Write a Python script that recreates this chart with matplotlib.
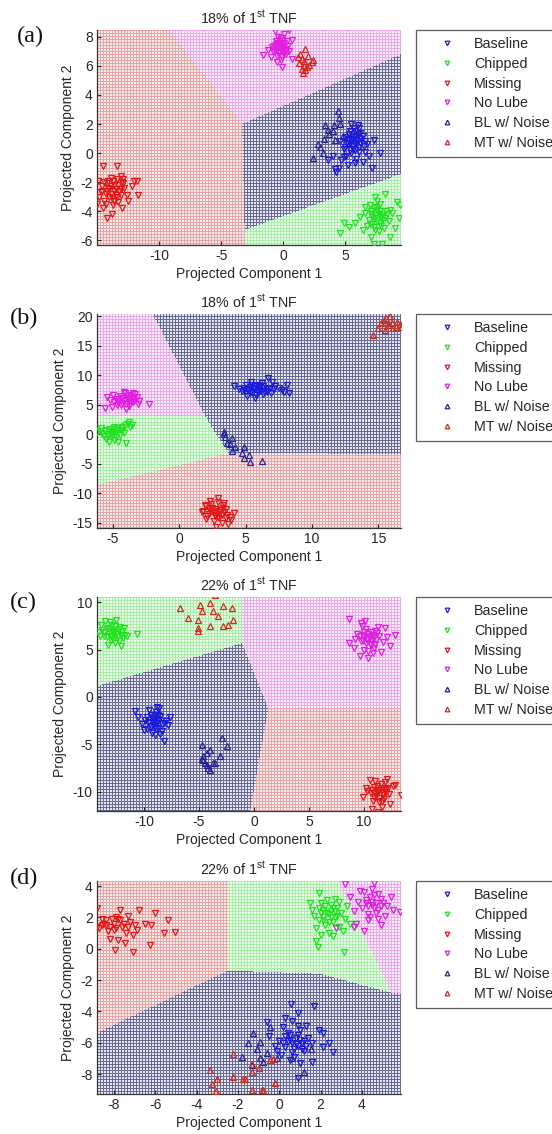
import numpy as np
import matplotlib
matplotlib.use("Agg")
import matplotlib.pyplot as plt
from matplotlib.path import Path

plt.rcParams['font.family'] = ['Liberation Sans', 'DejaVu Sans']
plt.rcParams['axes.unicode_minus'] = False
plt.rcParams['mathtext.fontset'] = 'custom'
plt.rcParams['mathtext.rm'] = 'Liberation Sans'
plt.rcParams['mathtext.it'] = 'Liberation Sans:italic'

# ---------------------------------------------------------------- labels
series_names = ["Baseline", "Chipped", "Missing", "No Lube", "BL w/ Noise", "MT w/ Noise"]
panel_letters = ["(a)", "(b)", "(c)", "(d)"]
panel_titles = ["18% of 1$^{\\mathrm{st}}$ TNF", "18% of 1$^{\\mathrm{st}}$ TNF",
                "22% of 1$^{\\mathrm{st}}$ TNF", "22% of 1$^{\\mathrm{st}}$ TNF"]
x_label = "Projected Component 1"
y_label = "Projected Component 2"

# axis ranges and ticks per panel
a_xlim, a_ylim = (-15.0, 9.5), (-6.34, 8.48)
b_xlim, b_ylim = (-6.2, 16.7), (-15.85, 20.34)
c_xlim, c_ylim = (-14.27, 13.36), (-12.05, 10.57)
d_xlim, d_ylim = (-8.82, 5.89), (-9.27, 4.32)
a_xticks, a_yticks = [-10, -5, 0, 5], [-6, -4, -2, 0, 2, 4, 6, 8]
b_xticks, b_yticks = [-5, 0, 5, 10, 15], [-15, -10, -5, 0, 5, 10, 15, 20]
c_xticks, c_yticks = [-10, -5, 0, 5, 10], [-10, -5, 0, 5, 10]
d_xticks, d_yticks = [-8, -6, -4, -2, 0, 2, 4], [-8, -6, -4, -2, 0, 2, 4]

# ---------------------------------------------------------------- panel (a) projected points
a_baseline = [(5.6,0.9),(5.9,1.2),(5.2,0.6),(6.1,0.4),(5.4,1.5),(5.8,0.2),(6.3,1.0),(5.0,1.1),
              (5.5,0.0),(6.0,0.8),(5.7,1.7),(6.5,0.5),(4.9,0.3),(5.3,1.3),(6.2,1.4),(5.1,-0.2),
              (5.9,-0.4),(6.6,0.1),(5.4,0.7),(5.6,0.5),(6.0,1.9),(4.7,-0.5),(5.2,-0.8),(6.8,0.6),
              (4.5,-1.0),(4.3,-1.3),(4.2,-1.1),(4.9,-0.3),(5.8,-0.7),(6.4,-0.6),(7.3,0.9),(7.8,0.0),
              (7.2,-1.0),(6.9,-0.2),(5.5,2.0),(6.1,1.7),(5.0,0.4),(4.6,0.8),(3.6,-0.5),(4.0,-0.2),
              (5.5,1.0),(5.8,0.6),(6.0,1.3),(5.3,0.9),(6.2,0.7),(5.7,1.1),(5.1,0.7),(6.4,1.2),
              (5.6,0.3),(5.9,0.9),(6.6,0.8),(5.4,0.2),(6.1,0.1),(5.8,1.5),(5.2,1.0)]
a_chipped = [(7.4,-4.5),(7.1,-4.2),(7.8,-4.8),(7.6,-3.9),(8.0,-4.3),(6.9,-4.6),(7.3,-5.1),(8.3,-4.0),
             (7.0,-3.6),(7.7,-5.4),(8.5,-4.7),(6.6,-4.1),(7.2,-4.9),(8.1,-5.2),(7.5,-3.7),(6.8,-5.0),
             (7.9,-4.4),(4.6,-5.5),(4.9,-4.8),(5.3,-5.1),(5.8,-4.8),(6.2,-4.4),(6.6,-3.7),(7.4,-3.0),
             (8.2,-2.8),(9.2,-3.4),(9.4,-3.6),(9.3,-4.5),(9.0,-5.2),(8.6,-5.8),(8.0,-6.3),(7.3,-6.3),
             (7.1,-5.8),(8.8,-4.1),(6.4,-5.3),(7.6,-3.3),
             (7.5,-4.3),(7.8,-4.0),(7.2,-4.4),(8.2,-4.5),(7.6,-4.7),(7.9,-5.0),(7.3,-3.8),(8.4,-4.2),
             (7.0,-4.9),(7.7,-4.2),(8.0,-4.6),(7.4,-5.3),(8.6,-3.9),(7.1,-4.0),(7.8,-3.5)]
a_missing = [(-14.0,-2.5),(-13.6,-2.2),(-14.3,-2.8),(-13.2,-2.6),(-14.6,-2.3),(-13.8,-3.1),(-13.0,-2.0),
             (-14.1,-1.9),(-13.5,-2.9),(-12.8,-2.4),(-14.4,-3.3),(-13.3,-3.4),(-13.9,-1.7),(-12.6,-2.9),
             (-14.7,-2.7),(-13.7,-3.6),(-13.1,-2.9),(-14.2,-2.1),(-12.9,-1.8),(-13.4,-3.0),(-14.9,-1.9),
             (-14.5,-0.9),(-13.4,-0.9),(-11.8,-1.9),(-11.7,-2.9),(-15.0,-3.5),(-14.5,-3.8),(-14.2,-4.5),
             (-13.8,-4.2),(-13.0,-3.8),(-12.5,-3.3),(-12.2,-2.3),(-12.0,-1.9),(-13.1,-1.6),(-13.6,-2.6),
             (-14.8,-3.0),
             (-13.9,-2.3),(-14.2,-2.6),(-13.5,-2.5),(-13.7,-1.9),(-14.4,-2.0),(-13.3,-2.2),(-13.8,-2.8),
             (-14.0,-3.0),(-13.1,-2.5),(-14.6,-2.6),(-13.6,-3.3),(-12.9,-2.1),(-14.3,-3.5),(-13.4,-1.8),
             (-14.1,-2.4)]
a_nolube = [(-0.3,7.3),(0.0,7.5),(-0.6,7.1),(-0.1,7.8),(0.2,7.2),(-0.4,7.6),(-0.8,7.0),(0.1,6.9),
            (-0.2,7.9),(0.4,7.4),(-0.5,6.7),(-0.7,7.4),(0.3,7.7),(-0.1,6.6),(-0.4,8.0),(0.0,7.1),
            (-0.9,7.3),(0.2,6.8),(-0.3,7.0),(-0.6,7.7),(-1.6,6.75),(-1.2,7.1),(-0.65,8.4),(0.45,8.5),
            (0.7,7.8),(-0.1,5.95),(-0.5,6.3),(0.7,6.5),(0.5,7.0),(-1.0,6.6),(-0.2,6.4),(0.1,8.2),
            (-0.3,7.5),(-0.5,7.3),(0.0,7.3),(-0.2,7.1),(-0.6,7.5),(0.1,7.6),(-0.4,6.9),(-0.1,7.6),
            (-0.7,7.2),(0.2,7.0),(-0.3,7.8),(0.0,6.9)]
a_bl_noise = [(4.4,2.9),(3.4,1.9),(4.1,1.9),(4.6,2.0),(3.3,1.0),(2.8,0.6),(3.2,0.0),(2.4,-0.35),
              (4.0,1.5),(4.2,0.9),(3.7,1.3),(4.5,2.4),(3.0,0.4),(4.8,1.2),(3.6,1.6)]
a_mt_noise = [(1.8,7.2),(2.4,6.4),(1.5,6.5),(1.3,6.2),(1.9,5.9),(1.6,5.5),(1.75,5.7),(1.4,6.8),
              (2.1,6.1),(1.2,6.6),(1.7,6.0),(2.0,6.7),(1.5,5.8),(2.3,6.3),(1.65,6.35)]

# ---------------------------------------------------------------- panel (b) projected points
b_baseline = [(5.7,7.8),(5.2,7.5),(6.1,8.0),(5.5,8.3),(6.4,7.4),(4.9,7.9),(5.9,7.1),(6.8,7.8),
              (5.3,6.9),(6.2,8.6),(5.0,8.4),(6.6,7.2),(5.6,7.6),(7.2,8.1),(5.8,6.7),(4.7,7.3),
              (6.0,7.7),(6.9,7.0),(5.4,8.8),(6.3,6.8),(7.5,7.9),(4.1,8.2),(4.5,7.6),(8.1,8.3),
              (7.7,7.5),(8.3,7.0),(6.7,9.5),(5.7,6.1),(7.0,8.9),(5.1,6.5),(6.5,7.4),(7.9,7.2),
              (5.6,7.9),(6.0,7.5),(5.3,8.0),(6.3,8.2),(5.8,8.1),(5.1,7.7),(6.6,7.6),(5.5,7.2),
              (6.1,7.3),(5.9,8.4),(7.1,7.6),(6.4,7.9),(4.9,7.5)]
b_chipped = [(-5.0,0.4),(-4.6,0.8),(-5.4,0.1),(-4.3,1.2),(-5.8,0.0),(-4.8,0.2),(-5.2,0.9),(-4.1,1.5),
             (-5.6,0.5),(-4.5,-0.2),(-3.9,1.8),(-6.0,0.6),(-5.1,-0.5),(-4.7,1.0),(-5.5,-0.8),(-4.2,0.3),
             (-6.2,0.4),(-3.8,2.0),(-3.6,1.6),(-5.3,-1.25),(-4.6,-1.25),(-4.0,-1.5),(-4.9,-0.9),
             (-5.7,-0.3),(-4.4,0.7),(-5.9,1.0),(-3.7,1.2),(-5.0,0.5),
             (-5.0,0.9),(-4.7,0.5),(-5.3,0.5),(-4.4,1.0),(-5.1,0.1),(-4.9,1.3),(-5.6,0.8),(-4.3,0.6),
             (-5.4,-0.3),(-4.8,-0.4)]
b_missing = [(2.8,-13.0),(2.5,-12.5),(3.1,-12.8),(2.2,-13.4),(3.4,-13.1),(2.7,-13.9),(2.0,-12.2),
             (3.0,-14.2),(3.6,-13.6),(2.4,-11.8),(2.9,-11.4),(3.3,-12.0),(1.8,-12.9),(2.6,-14.6),
             (3.8,-14.0),(2.1,-13.8),(3.2,-15.0),(2.8,-15.6),(3.5,-12.6),(2.3,-11.2),(1.7,-13.2),
             (4.1,-13.3),(3.9,-14.5),(2.9,-10.8),(2.0,-14.3),(3.4,-11.6),(3.0,-13.5),(2.5,-12.7),
             (1.9,-11.9),(3.7,-15.1),
             (2.8,-12.6),(3.0,-13.2),(2.6,-13.3),(3.2,-13.6),(2.4,-12.9),(2.9,-14.0),(3.3,-12.4),
             (2.2,-12.6),(2.7,-13.7),(3.5,-14.2)]
b_nolube = [(-3.9,5.8),(-4.3,6.2),(-3.5,5.5),(-4.6,5.9),(-3.2,6.3),(-4.0,5.2),(-4.8,6.0),(-3.7,6.6),
            (-4.4,5.0),(-3.4,5.7),(-4.1,6.9),(-4.9,5.4),(-3.6,6.0),(-3.0,5.6),(-4.5,6.5),(-3.8,4.7),
            (-5.2,5.8),(-4.2,7.2),(-3.3,6.8),(-4.7,4.9),(-5.44,6.36),(-5.56,4.4),(-5.1,4.6),(-2.3,5.1),
            (-4.0,4.2),(-3.5,7.0),(-3.9,6.4),(-4.6,5.3),(-5.0,6.6),(-3.1,5.1),
            (-3.9,6.1),(-4.2,5.6),(-3.6,5.9),(-4.4,6.1),(-3.8,5.4),(-4.0,6.5),(-3.4,6.2),(-4.6,5.6),
            (-3.7,5.2),(-4.3,5.3)]
b_bl_noise = [(3.33,0.44),(3.46,-0.4),(3.58,-1.5),(3.96,-0.7),(4.2,-2.1),(4.84,-2.1),(4.7,-3.2),
              (4.84,-4.0),(5.26,-3.5),(5.3,-4.7),(6.2,-4.6),(3.96,-2.9),(3.4,0.0),(3.83,-1.6)]
b_mt_noise = [(15.7,18.5),(16.0,18.9),(15.4,19.3),(16.3,18.2),(15.9,20.0),(16.6,18.6),(15.2,18.8),
              (16.1,17.9),(15.6,19.6),(16.4,19.0),(14.6,16.8),(15.0,17.9),(16.7,18.1),(15.8,18.4),
              (15.5,17.6)]

# ---------------------------------------------------------------- panel (c) projected points
c_baseline = [(-9.2,-2.6),(-8.8,-2.3),(-9.6,-2.8),(-8.5,-2.0),(-9.9,-2.4),(-9.0,-3.1),(-8.2,-2.7),
              (-9.4,-1.9),(-8.7,-3.3),(-10.2,-2.9),(-9.1,-2.2),(-8.4,-3.6),(-9.7,-3.4),(-8.0,-2.5),
              (-8.9,-1.6),(-10.5,-2.1),(-9.3,-3.8),(-8.6,-1.2),(-7.8,-3.0),(-9.5,-1.4),(-10.8,-1.5),
              (-8.2,-4.7),(-9.0,-4.0),(-8.8,-1.1),(-10.0,-3.5),(-9.2,-2.5),(-7.6,-2.1),(-8.5,-3.9),
              (-9.1,-2.5),(-9.3,-2.2),(-8.8,-2.8),(-9.5,-2.6),(-8.6,-2.4),(-9.0,-2.0),(-9.2,-3.0),
              (-8.9,-3.4),(-9.7,-2.1),(-8.4,-2.9),(-9.4,-3.2),(-8.7,-1.9)]
c_chipped = [(-12.8,6.8),(-13.2,7.2),(-12.4,6.5),(-13.6,6.9),(-12.0,7.0),(-12.9,7.6),(-13.4,6.3),
             (-12.2,7.4),(-13.0,6.0),(-11.7,6.6),(-13.8,7.1),(-12.6,5.7),(-13.1,7.9),(-11.9,6.2),
             (-12.5,8.1),(-14.0,6.5),(-13.3,5.5),(-12.7,6.9),(-11.5,6.4),(-12.3,5.9),(-13.9,7.6),
             (-10.6,6.7),(-12.1,5.4),(-13.5,8.0),(-12.8,6.1),(-11.8,7.3),(-14.2,6.9),(-12.9,7.0),
             (-12.8,7.0),(-12.5,6.7),(-13.0,6.5),(-12.3,7.2),(-13.2,6.7),(-12.6,7.5),(-13.4,7.3),
             (-12.1,6.6),(-12.9,6.3),(-13.6,6.4)]
c_missing = [(11.3,-9.8),(11.7,-10.1),(10.9,-9.5),(12.0,-9.7),(11.1,-10.5),(11.5,-9.2),(10.6,-10.2),
             (12.3,-10.3),(11.0,-8.9),(11.8,-10.8),(10.3,-9.9),(12.6,-9.4),(11.4,-11.1),(10.8,-11.0),
             (12.1,-8.7),(11.2,-10.0),(9.9,-10.6),(13.4,-10.4),(11.6,-11.6),(10.5,-8.8),(12.4,-11.3),
             (11.9,-9.0),(10.7,-11.8),(11.3,-12.2),(12.8,-9.3),(10.2,-9.6),
             (11.3,-10.0),(11.5,-9.6),(11.0,-10.2),(11.7,-10.4),(11.2,-9.4),(10.9,-10.6),(11.8,-9.8),
             (11.4,-10.7),(12.0,-10.0),(10.7,-9.8),(11.6,-11.0),(12.2,-9.6)]
c_nolube = [(10.3,6.2),(10.7,6.6),(9.9,5.9),(11.1,6.0),(10.0,6.9),(10.6,5.5),(9.6,6.4),(11.4,6.5),
            (10.2,7.2),(10.9,5.2),(9.4,6.7),(11.7,5.8),(10.4,4.9),(9.8,7.5),(11.0,7.0),(10.5,5.6),
            (12.1,6.3),(9.2,6.1),(10.8,4.6),(11.3,7.4),(8.6,5.7),(12.8,6.6),(9.6,4.3),(8.6,8.2),
            (9.1,5.2),(10.1,8.0),(11.9,7.3),(10.4,4.1),(12.4,5.4),(9.7,7.8),(11.5,4.8),(10.0,5.0),
            (10.3,6.0),(10.5,6.4),(10.0,6.3),(10.8,6.2),(10.2,5.7),(10.6,6.9),(9.9,6.6),(11.0,5.6),
            (10.4,6.7),(11.2,6.8),(10.7,5.9),(9.7,5.9)]
c_bl_noise = [(-4.76,-5.04),(-4.0,-5.57),(-2.94,-4.33),(-2.48,-5.15),(-3.09,-6.27),(-3.7,-6.98),
              (-4.6,-6.27),(-4.45,-6.98),(-4.15,-7.5),(-4.76,-6.6),(-4.3,-5.9),(-3.55,-7.0),
              (-4.6,-6.66),(-4.0,-7.7),(-4.3,-7.2)]
c_mt_noise = [(-6.73,9.4),(-4.76,9.06),(-4.0,9.94),(-3.55,10.8),(-2.79,9.58),(-2.03,9.4),(-1.88,8.17),
              (-2.33,7.64),(-2.79,7.47),(-3.24,8.53),(-3.7,9.06),(-4.0,7.47),(-5.06,8.17),(-5.06,7.3),
              (-5.06,6.94),(-5.97,8.35),(-4.9,9.7)]

# ---------------------------------------------------------------- panel (d) projected points
d_baseline = [(0.8,-6.1),(0.5,-5.8),(1.1,-6.0),(0.3,-6.3),(0.9,-5.5),(1.3,-6.2),(0.0,-5.9),(0.6,-6.6),
              (1.0,-5.2),(0.4,-5.4),(1.4,-5.7),(-0.2,-6.2),(0.7,-6.9),(1.2,-6.5),(0.2,-5.0),(0.9,-4.9),
              (-0.5,-5.6),(0.5,-7.1),(1.6,-6.0),(0.1,-6.8),(0.57,-3.53),(1.7,-3.66),(2.1,-5.4),
              (2.58,-6.57),(2.1,-6.3),(0.89,-8.27),(1.58,-7.2),(0.89,-4.1),(1.3,-4.9),(-0.6,-4.7),
              (2.4,-6.0),(1.9,-5.2),(0.3,-4.4),(1.0,-7.3),(-0.1,-6.5),(0.6,-4.6),
              (0.6,-6.0),(0.9,-6.2),(0.4,-5.9),(1.0,-5.8),(0.7,-6.4),(0.2,-6.0),(1.2,-5.9),(0.5,-5.5),
              (0.8,-5.7),(0.3,-5.6),(1.1,-6.4)]
d_chipped = [(2.4,2.2),(2.1,2.5),(2.7,2.0),(1.9,1.8),(2.5,2.8),(3.0,2.3),(1.7,2.1),(2.2,1.5),(2.8,2.6),
             (2.0,2.9),(2.6,1.7),(3.2,1.9),(1.6,2.5),(2.3,3.1),(2.9,1.4),(1.8,1.3),(2.5,2.4),(3.4,1.6),
             (2.1,2.0),(2.7,3.2),(1.94,3.57),(1.86,0.13),(3.14,-0.19),(1.8,0.5),(3.1,1.1),(3.6,1.4),
             (2.4,1.0),(2.0,0.9),(3.3,2.7),(2.6,0.8),(1.5,2.9),(2.9,3.0),
             (2.3,2.3),(2.5,2.0),(2.0,2.3),(2.7,2.4),(2.2,2.7),(2.4,1.7),(1.9,2.6),(2.8,2.1),(2.1,1.8),
             (2.6,2.6)]
d_missing = [(-8.83,2.58),(-7.95,-0.08),(-7.06,-0.2),(-6.26,0.24),(-5.37,1.83),(-5.05,1.09),(-5.6,0.98),
             (-6.0,2.26),(-6.8,2.47),(-7.7,2.47),(-7.8,0.55),(-8.2,0.6),(-6.5,1.6),(-7.46,0.34),
             (-8.5,1.6),(-8.1,1.9),(-7.6,1.4),(-7.2,1.7),(-8.7,1.3),(-8.3,1.1),(-7.9,2.0),(-7.4,1.0),
             (-7.0,1.5),(-8.6,1.9),(-8.0,1.2),(-7.3,2.1),(-6.9,1.2),(-7.7,1.8),(-8.4,1.5),(-6.2,1.5),
             (-7.1,0.9),(-8.8,1.4),
             (-8.0,1.6),(-7.8,1.9),(-8.4,1.8),(-7.5,1.6),(-8.2,1.4),(-7.9,1.3),(-8.6,1.5),(-7.3,1.4)]
d_nolube = [(4.5,2.8),(4.2,3.1),(4.8,2.5),(4.0,2.6),(4.6,3.4),(5.0,2.9),(4.3,2.2),(4.9,3.2),(3.8,3.0),
            (4.4,2.0),(5.2,2.7),(4.1,3.6),(4.7,2.3),(3.6,2.4),(5.4,3.3),(4.5,3.8),(3.9,3.7),(5.1,2.1),
            (4.3,1.8),(4.8,1.9),(3.4,3.3),(5.84,2.36),(2.74,1.34),(3.63,1.4),(4.1,1.1),(3.2,4.1),
            (4.6,4.2),(5.5,2.5),(3.7,1.6),(4.9,1.5),
            (4.5,3.0),(4.3,2.7),(4.7,2.9),(4.4,3.3),(4.6,2.6),(4.9,2.7),(4.2,2.9),(4.8,3.5)]
d_bl_noise = [(-1.26,-5.4),(-1.82,-6.9),(-0.93,-5.93),(-0.61,-6.68),(-1.1,-6.4),(-0.45,-4.98),
              (-1.34,-7.4),(-0.77,-7.2),(-0.13,-7.0),(0.6,-7.0),(1.2,-7.85),(1.53,-6.4),(-0.93,-7.0),
              (-1.5,-6.0)]
d_mt_noise = [(-3.35,-7.72),(-3.27,-8.65),(-3.03,-8.3),(-3.08,-9.1),(-2.22,-6.74),(-2.22,-8.19),
              (-1.74,-8.3),(-1.34,-7.34),(-1.34,-7.87),(-1.34,-9.04),(-0.85,-9.04),(-0.77,-9.0),
              (-0.21,-8.6),(-0.45,-7.12),(-0.29,-7.05),(-1.66,-8.3),(-1.0,-7.6)]

# ---------------------------------------------------------------- decision regions (data coords)
a_region_baseline = [(-3.3, 2.0), (10, 7.0), (10, -1.3), (-3.1, -5.3)]
a_region_chipped = [(-3.1, -5.3), (10, -1.3), (10, -7), (-3.1, -7)]
a_region_missing = [(-16, 9), (-9.6, 9), (-3.3, 2.0), (-3.1, -5.3), (-3.1, -7), (-16, -7)]
a_region_nolube = [(-9.6, 9), (10, 9), (10, 7.0), (-3.3, 2.0)]

b_region_baseline = [(-2.2, 21), (18, 21), (18, -3.3), (3.7, -3.2), (1.95, 2.9)]
b_region_chipped = [(-7, 3.0), (1.95, 2.9), (3.7, -3.2), (-7, -9.0)]
b_region_missing = [(-7, -9.0), (3.7, -3.2), (18, -3.3), (18, -17), (-7, -17)]
b_region_nolube = [(-7, 21), (-2.2, 21), (1.95, 2.9), (-7, 3.0)]

c_region_baseline = [(-15, 0.9), (-1.1, 5.7), (1.3, -1.2), (-0.5, -13), (-15, -13)]
c_region_chipped = [(-15, 11), (-1.1, 11), (-1.1, 5.7), (-15, 0.9)]
c_region_missing = [(1.3, -1.2), (14, -1.0), (14, -13), (-0.5, -13)]
c_region_nolube = [(-1.1, 11), (14, 11), (14, -1.0), (1.3, -1.2), (-1.1, 5.7)]

d_region_baseline = [(-9.5, -5.8), (-2.5, -1.4), (2.0, -1.6), (5.4, -2.8), (7, -3.0), (7, -10), (-9.5, -10)]
d_region_chipped = [(-2.5, 5), (2.59, 5), (5.4, -2.8), (2.0, -1.6), (-2.5, -1.4)]
d_region_missing = [(-9.5, 5), (-2.5, 5), (-2.5, -1.4), (-9.5, -5.8)]
d_region_nolube = [(2.59, 5), (7, 5), (7, -3.0), (5.4, -2.8)]

# ---------------------------------------------------------------- styling
marker_colors = ["#1a1adc", "#22e022", "#e01818", "#e020e0", "#242496", "#d02a1e"]
marker_shapes = ["v", "v", "v", "v", "^", "^"]
# mesh colour (lines) and gap colour for each class region: baseline, chipped, missing, no lube
mesh_line = np.array([[105, 105, 150], [165, 240, 165], [232, 165, 165], [232, 170, 232]], float) / 255
mesh_gap = np.array([[232, 232, 242], [238, 253, 238], [250, 236, 236], [250, 238, 250]], float) / 255
text_color = "#262626"

FIG_W, FIG_H = 552, 1134
ax_left, ax_right = 97, 401
ax_tops = [30, 314, 597, 881]
ax_bottoms = [245, 528, 811, 1094]
letter_pos = [(17, 36), (10, 318), (10, 602), (10, 878)]

panels = [
    dict(xlim=a_xlim, ylim=a_ylim, xt=a_xticks, yt=a_yticks,
         series=[a_baseline, a_chipped, a_missing, a_nolube, a_bl_noise, a_mt_noise],
         regions=[a_region_baseline, a_region_chipped, a_region_missing, a_region_nolube]),
    dict(xlim=b_xlim, ylim=b_ylim, xt=b_xticks, yt=b_yticks,
         series=[b_baseline, b_chipped, b_missing, b_nolube, b_bl_noise, b_mt_noise],
         regions=[b_region_baseline, b_region_chipped, b_region_missing, b_region_nolube]),
    dict(xlim=c_xlim, ylim=c_ylim, xt=c_xticks, yt=c_yticks,
         series=[c_baseline, c_chipped, c_missing, c_nolube, c_bl_noise, c_mt_noise],
         regions=[c_region_baseline, c_region_chipped, c_region_missing, c_region_nolube]),
    dict(xlim=d_xlim, ylim=d_ylim, xt=d_xticks, yt=d_yticks,
         series=[d_baseline, d_chipped, d_missing, d_nolube, d_bl_noise, d_mt_noise],
         regions=[d_region_baseline, d_region_chipped, d_region_missing, d_region_nolube]),
]


def region_mesh(npx_w, npx_h, xlim, ylim, regions):
    """Classify every pixel of the plot area and paint it as a fine coloured mesh."""
    cols = np.arange(npx_w)
    rows = np.arange(npx_h)
    xs = xlim[0] + (cols + 0.5) / npx_w * (xlim[1] - xlim[0])
    ys = ylim[1] - (rows + 0.5) / npx_h * (ylim[1] - ylim[0])
    gx, gy = np.meshgrid(xs, ys)
    pts = np.column_stack([gx.ravel(), gy.ravel()])
    label = np.zeros(pts.shape[0], dtype=int)
    for k, poly in enumerate(regions):
        label[Path(poly).contains_points(pts)] = k
    label = label.reshape(npx_h, npx_w)
    mesh = (rows[:, None] % 3 == 0) | (cols[None, :] % 3 == 0)
    return np.where(mesh[..., None], mesh_line[label], mesh_gap[label])


fig = plt.figure(figsize=(FIG_W / 100, FIG_H / 100), dpi=100)

for i, p in enumerate(panels):
    top, bot = ax_tops[i], ax_bottoms[i]
    ax = fig.add_axes([ax_left / FIG_W, 1 - bot / FIG_H,
                       (ax_right - ax_left) / FIG_W, (bot - top) / FIG_H])
    img = region_mesh(ax_right - ax_left, bot - top, p["xlim"], p["ylim"], p["regions"])
    ax.imshow(img, extent=(p["xlim"][0], p["xlim"][1], p["ylim"][0], p["ylim"][1]),
              origin="upper", aspect="auto", interpolation="nearest", zorder=0)

    handles = []
    for pts, name, col, shp in zip(p["series"], series_names, marker_colors, marker_shapes):
        xy = np.array(pts)
        h, = ax.plot(xy[:, 0], xy[:, 1], linestyle="none", marker=shp, ms=4.6,
                     mfc="none", mec=col, mew=0.9, label=name, zorder=3)
        handles.append(h)

    ax.set_xlim(*p["xlim"])
    ax.set_ylim(*p["ylim"])
    ax.set_xticks(p["xt"])
    ax.set_yticks(p["yt"])
    ax.tick_params(direction="in", length=3, width=0.8, colors=text_color,
                   labelsize=10, pad=3, top=False, right=False)
    for side in ("top", "right"):
        ax.spines[side].set_visible(False)
    for side in ("left", "bottom"):
        ax.spines[side].set_color("#333333")
        ax.spines[side].set_linewidth(0.9)

    ax.set_title(panel_titles[i], fontsize=10.3, color=text_color, pad=5)
    ax.set_xlabel(x_label, fontsize=10, color=text_color, labelpad=3)
    ax.set_ylabel(y_label, fontsize=10, color=text_color, labelpad=4)

    leg = ax.legend(handles=handles, loc="upper left",
                    bbox_to_anchor=(416 / FIG_W, 1 - top / FIG_H), bbox_transform=fig.transFigure,
                    borderaxespad=0, frameon=True, fancybox=False, edgecolor="#333333",
                    fontsize=10.3, borderpad=0.5, handlelength=3.3, handletextpad=0.25,
                    labelspacing=0.4, markerscale=0.72, numpoints=1)
    leg.get_frame().set_linewidth(0.9)
    for t in leg.get_texts():
        t.set_color(text_color)

    lx, ly = letter_pos[i]
    fig.text(lx / FIG_W, 1 - ly / FIG_H, panel_letters[i], fontsize=17.5,
             family=["Liberation Serif", "DejaVu Serif"], color="#111111",
             ha="left", va="center")

fig.savefig("out.png", dpi=100)
